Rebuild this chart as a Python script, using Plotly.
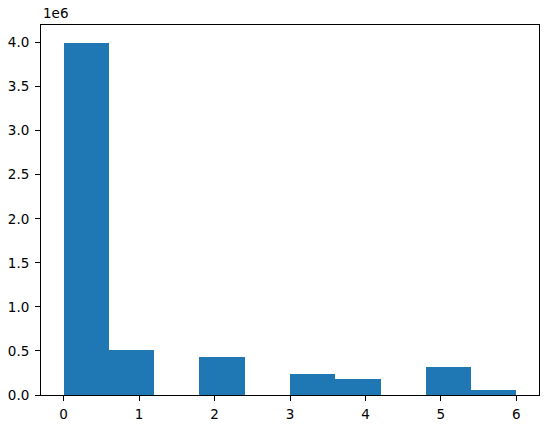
import plotly.graph_objects as go

bin_edges = [0.0, 0.6, 1.2, 1.8, 2.4, 3.0, 3.6, 4.2, 4.8, 5.4, 6.0]
counts = [4.0e6, 0.508e6, 0, 0.427e6, 0, 0.233e6, 0.187e6, 0, 0.313e6, 0.061e6]
x_ticks = [0, 1, 2, 3, 4, 5, 6]
y_ticks = [0, 0.5e6, 1.0e6, 1.5e6, 2.0e6, 2.5e6, 3.0e6, 3.5e6, 4.0e6]
y_tick_labels = ["0.0", "0.5", "1.0", "1.5", "2.0", "2.5", "3.0", "3.5", "4.0"]

centers = [(bin_edges[i] + bin_edges[i + 1]) / 2 for i in range(len(counts))]
widths = [bin_edges[i + 1] - bin_edges[i] for i in range(len(counts))]

fig = go.Figure(go.Bar(x=centers, y=counts, width=widths,
                       marker=dict(color="#1f77b4", line=dict(width=0))))

font = dict(family="DejaVu Sans", size=13.5, color="black")
fig.update_layout(
    width=547, height=428,
    margin=dict(l=41, r=8, t=25, b=33, autoexpand=False),
    paper_bgcolor="white", plot_bgcolor="white",
    font=font, showlegend=False, bargap=0,
    xaxis=dict(range=[-0.3, 6.3], tickvals=x_ticks, ticktext=[str(v) for v in x_ticks],
               showgrid=False, zeroline=False, showline=True, linecolor="black",
               linewidth=1, mirror=True, ticks="outside", ticklen=5, tickcolor="black",
               tickwidth=1, ticklabelstandoff=2, automargin=False),
    yaxis=dict(range=[0, 4.2e6], tickvals=y_ticks, ticktext=y_tick_labels,
               showgrid=False, zeroline=False, showline=True, linecolor="black",
               linewidth=1, mirror=True, ticks="outside", ticklen=5, tickcolor="black",
               tickwidth=1, ticklabelstandoff=3, automargin=False),
    annotations=[dict(text="1e6", xref="paper", yref="paper", x=0, y=1,
                      xanchor="left", yanchor="bottom", yshift=2, showarrow=False,
                      font=font)],
)

fig.write_html("out.html", config={"displayModeBar": False},
               post_script="document.body.style.margin='0';document.body.style.overflow='hidden';")
